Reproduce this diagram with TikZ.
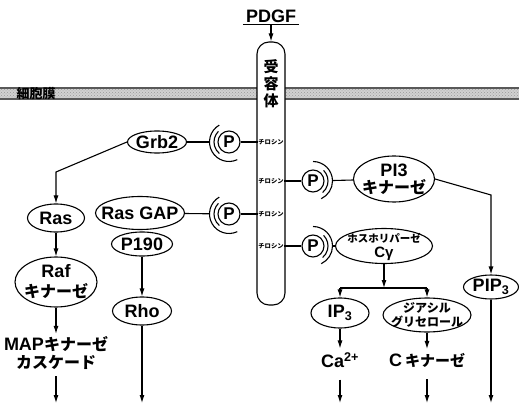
\documentclass[tikz,border=0pt]{standalone}
\usepackage{fontspec}
\setmainfont{Liberation Sans}
\newfontfamily\jp{Noto Sans CJK JP}
\usetikzlibrary{arrows.meta,positioning,shapes.geometric,patterns}

\begin{document}
\begin{tikzpicture}[x=1pt,y=-1pt,
  font=\fontsize{18}{19}\selectfont\bfseries,
  line width=1.1pt,
  oval/.style={ellipse,draw,inner sep=0pt},
  txt/.style={align=center,inner sep=0pt},
  pcirc/.style={circle,draw,inner sep=0pt,minimum size=22pt,font=\fontsize{17}{18}\selectfont\bfseries},
  tyr/.style={inner sep=0pt,font=\jp\fontsize{6.3}{7}\selectfont\bfseries},
  arrow/.style={-{Latex[length=8pt,width=5pt]}},
  membrane/.style={fill=black!18,draw=black!65}
]
\useasboundingbox (0,0) rectangle (519,406);

% cell membrane
\filldraw[membrane] (-2,88) rectangle (521,99);
\fill[pattern=crosshatch dots,pattern color=black!40] (-2,89) rectangle (521,98);
\node[font=\jp\fontsize{13}{14}\selectfont\bfseries] (saibo) at (36,93.5) {細胞膜};

% receptor
\node[inner sep=1.5pt] (pdgf) at (271,16) {PDGF};
\draw ([xshift=-1pt]pdgf.south west) -- ([xshift=1pt]pdgf.south east);
\node[draw,fill=white,rounded corners=12pt,minimum width=28pt,minimum height=263pt,inner sep=0pt] (rec) at (271,173.5) {};
\node[align=center,font=\jp\fontsize{15}{17}\selectfont\bfseries] (juyo) at (271,84) {受\\容\\体};
\draw[arrow] (pdgf) -- (rec);

\node[tyr] (ty1) at (271,142) {チロシン};
\node[tyr] (ty2) at (271,181) {チロシン};
\node[tyr] (ty3) at (271,214) {チロシン};
\node[tyr] (ty4) at (271,246) {チロシン};

% phosphates
\node[pcirc] (p1) at (229,142) {P};
\node[pcirc] (p2) at (229,214) {P};
\node[pcirc] (p3) at (313,181) {P};
\node[pcirc] (p4) at (313,246) {P};
\foreach \n in {p1,p2}{
  \draw ([shift={(135:15pt)}]\n.center) arc[start angle=135,end angle=230,radius=15pt];
  \draw ([shift={(120:19.5pt)}]\n.center) arc[start angle=120,end angle=295,radius=19.5pt];
}
\foreach \n in {p3,p4}{
  \draw ([shift={(45:15pt)}]\n.center) arc[start angle=45,end angle=-50,radius=15pt];
  \draw ([shift={(90:19.5pt)}]\n.center) arc[start angle=90,end angle=-65,radius=19.5pt];
}

% left side
\node[oval,minimum width=59pt,minimum height=22pt,label={[txt]center:Grb2}] (grb2) at (157,142) {};
\node[oval,minimum width=57pt,minimum height=28pt,label={[txt]center:Ras}] (ras) at (56,218) {};
\node[oval,minimum width=89pt,minimum height=33pt,label={[txt]center:Ras GAP}] (rasgap) at (140,213) {};
\node[oval,minimum width=61pt,minimum height=24pt,label={[txt]center:P190}] (p190) at (142,244) {};
\node[oval,minimum width=59pt,minimum height=28pt,label={[txt]center:Rho}] (rho) at (142,311) {};
\node[oval,minimum width=82pt,minimum height=50pt,
  label={[txt,font=\fontsize{18}{20}\selectfont\bfseries]center:Raf\\{\jp\fontsize{16}{20}\selectfont キナーゼ}}] (raf) at (56,282) {};
\node[align=center,inner sep=2pt,font=\fontsize{18}{18}\selectfont\bfseries] (mapk) at (56,353) {MAP{\jp\fontsize{16}{16}\selectfont キナーゼ}\\{\jp\fontsize{16}{16}\selectfont カスケード}};
\coordinate (bend1) at (56,172);
\coordinate (mapend) at (56,403);
\coordinate (rhoend) at (142,403);

% right side
\node[oval,minimum width=81pt,minimum height=46pt,
  label={[txt,font=\fontsize{18}{17}\selectfont\bfseries]center:PI3\\{\jp\fontsize{16}{17}\selectfont キナーゼ}}] (pi3) at (394,179) {};
\node[oval,minimum width=55pt,minimum height=24pt,label={[txt]center:PIP\textsubscript{3}}] (pip3) at (491,287) {};
\node[oval,minimum width=97pt,minimum height=35pt,
  label={[txt,font=\fontsize{15}{14.5}\selectfont\bfseries,yshift=-1pt]center:{\jp\fontsize{10.5}{12}\selectfont ホスホリパーゼ}\\Cγ}] (plc) at (384,246) {};
\node[oval,minimum width=58pt,minimum height=30pt,label={[txt]center:IP\textsubscript{3}}] (ip3) at (340,313) {};
\node[oval,minimum width=88pt,minimum height=34pt,
  label={[txt,font=\jp\fontsize{12}{14}\selectfont\bfseries]center:ジアシル\\グリセロール}] (dag) at (427,315) {};
\node (ca) at (340,360) {Ca\textsuperscript{2+}};
\node (pkc) at (427,360) {C\,{\jp\fontsize{15}{16}\selectfont キナーゼ}};
\coordinate (bend2) at (491,195);
\coordinate (split) at (384,288);
\coordinate (splitl) at (340,288);
\coordinate (splitr) at (427,288);
\coordinate (pipend) at (491,403);
\coordinate (caend) at (340,403);
\coordinate (pkcend) at (427,403);

% connectors
\draw[shorten >=8pt] (grb2) -- (p1);
\draw (p1) -- (ty1);
\draw[shorten >=8pt] (rasgap) -- (p2);
\draw (p2) -- (ty3);
\draw (ty2) -- (p3);
\draw[shorten <=8pt] (p3) -- (pi3);
\draw (ty4) -- (p4);
\draw[shorten <=8pt] (p4) -- (plc);

\draw[arrow] (grb2.west) -- (bend1) -- (ras);
\draw[arrow] (ras) -- (raf);
\draw[arrow] (raf) -- (mapk);
\draw[arrow,shorten <=4pt] (mapk) -- (mapend);
\draw[arrow] (p190) -- (rho);
\draw[arrow] (rho) -- (rhoend);

\draw[arrow] (pi3.east) -- (bend2) -- (pip3);
\draw[arrow] (pip3) -- (pipend);
\draw[arrow] (plc) -- (split);
\draw (splitl) -- (splitr);
\draw[arrow] (splitl) -- (ip3);
\draw[arrow] (splitr) -- (dag);
\draw[arrow] (ip3) -- (ca);
\draw[arrow] (dag) -- (pkc);
\draw[arrow,shorten <=8pt] (ca) -- (caend);
\draw[arrow,shorten <=8pt] (pkc) -- (pkcend);
\end{tikzpicture}
\end{document}
